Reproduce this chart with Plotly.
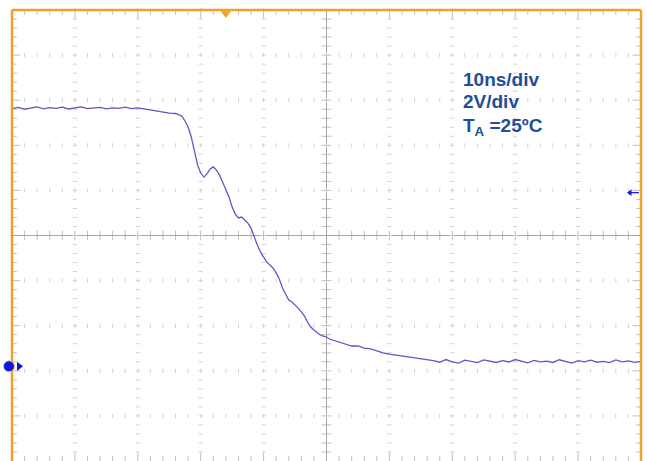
import plotly.graph_objects as go

# ---------------- data ----------------
time_ns = [
    -50, -49, -48, -47, -46, -45, -44, -43, -42, -41, -40, -39, -38, -37, -36, -35,
    -34, -33, -32, -31, -30, -29,
    -28, -27, -26, -25, -24, -23, -22.5, -22, -21.5, -21, -20.5, -20, -19.5, -19,
    -18.5, -18, -17.5, -17, -16.5, -16, -15.5, -15, -14.5, -14, -13.5, -13, -12.5,
    -12, -11.5, -11, -10.5, -10, -9.5, -9, -8.5, -8, -7.5, -7, -6.5, -6, -5.5, -5,
    -4.5, -4, -3.5, -3, -2.5, -2, -1.5, -1, -0.5, 0, 0.5, 1, 2, 3, 4, 5, 6, 7, 8, 9,
    10, 11, 12, 13, 14, 15, 16,
    17, 18, 19, 20, 21, 22, 23, 24, 25, 26, 27, 28, 29, 30, 31, 32, 33, 34, 35, 36,
    37, 38, 39, 40, 41, 42, 43, 44, 45, 46, 47, 48, 49, 50,
]
volts = [
    5.63, 5.68, 5.60, 5.66, 5.70, 5.62, 5.67, 5.64, 5.69, 5.61, 5.66, 5.70, 5.63, 5.65,
    5.68, 5.62, 5.66, 5.64, 5.69, 5.63, 5.66, 5.62,
    5.57, 5.52, 5.50, 5.43, 5.41, 5.30, 5.08, 4.81, 4.37, 3.70, 3.13, 2.77, 2.59, 2.73,
    2.95, 3.04, 2.90, 2.68, 2.37, 2.06, 1.71, 1.26, 0.95, 0.78, 0.82, 0.69, 0.55,
    0.33, -0.07, -0.42, -0.73, -0.95, -1.18, -1.31, -1.44, -1.66, -1.93, -2.33, -2.59,
    -2.86, -2.95, -3.08, -3.22, -3.39, -3.57, -3.84, -4.06, -4.19, -4.32, -4.41, -4.46,
    -4.50, -4.59, -4.63, -4.72, -4.81, -4.90, -4.90, -4.99, -5.03, -5.12, -5.21,
    -5.26, -5.30, -5.35, -5.39, -5.43, -5.48, -5.52,
    -5.55, -5.62, -5.50, -5.60, -5.66, -5.53, -5.58, -5.64, -5.52, -5.59, -5.63, -5.55,
    -5.61, -5.50, -5.58, -5.65, -5.54, -5.60, -5.57, -5.63, -5.51, -5.59, -5.66, -5.55,
    -5.60, -5.53, -5.62, -5.58, -5.64, -5.52, -5.60, -5.56, -5.63, -5.58,
]

trigger_time_ns = -16.0      # orange trigger marker on top edge
ch1_ref_level_v = -5.8       # channel reference (ground) marker on the left
trigger_level_v = 1.9        # trigger level arrow on the right

label_lines = ["10ns/div", "2V/div", "T<sub>A</sub> =25ºC"]

# ---------------- screen geometry ----------------
W, H = 647, 461
ML, MR, MT, MB = 12, 6, 10, 0
PW, PH = W - ML - MR, H - MT - MB
X0, X1 = -50.0, 50.0
Y0, Y1 = -10.0, 10.0
XDIV, YDIV = 10.0, 2.0
NDIV = 10
NSUB = 5
DX = (X1 - X0) / PW   # data units per pixel
DY = (Y1 - Y0) / PH

ORANGE = "#f0a12c"
GRID = "#d2d2d2"
AXC = "#a6a6a6"
TRACE = "#5a5ac6"
MARKBLUE = "#0c18e0"
TEXTBLUE = "#1d4f9b"

fig = go.Figure()

# dotted grid
gx, gy = [], []
for i in range(1, NDIV):
    if i == NDIV // 2:
        continue
    xv = X0 + i * XDIV
    for k in range(1, NDIV * NSUB):
        gx.append(xv); gy.append(Y0 + k * YDIV / NSUB)
fig.add_trace(go.Scatter(x=gx, y=gy, mode="markers", hoverinfo="skip",
                         marker=dict(symbol="line-ew", size=3, line=dict(width=1, color=GRID))))
gx, gy = [], []
for j in range(1, NDIV):
    if j == NDIV // 2:
        continue
    yv = Y0 + j * YDIV
    for k in range(1, NDIV * NSUB):
        gx.append(X0 + k * XDIV / NSUB); gy.append(yv)
fig.add_trace(go.Scatter(x=gx, y=gy, mode="markers", hoverinfo="skip",
                         marker=dict(symbol="line-ns", size=3, line=dict(width=1, color=GRID))))

# center cross lines
fig.add_shape(type="line", x0=X0, x1=X1, y0=0, y1=0, line=dict(color=AXC, width=1), layer="below")
fig.add_shape(type="line", x0=0, x1=0, y0=Y0, y1=Y1, line=dict(color=AXC, width=1), layer="below")

# ticks on center lines and border
vx, vy, vs = [], [], []
hx, hy, hs = [], [], []
for k in range(1, NDIV * NSUB):
    xv = X0 + k * XDIV / NSUB
    yv = Y0 + k * YDIV / NSUB
    major = (k % NSUB == 0)
    L = 7 if major else 4
    vx.append(xv); vy.append(0); vs.append(7)
    hx.append(0); hy.append(yv); hs.append(7)
    vx += [xv, xv]; vy += [Y1 - L / 2 * DY, Y0 + L / 2 * DY]; vs += [L, L]
    hx += [X0 + L / 2 * DX, X1 - L / 2 * DX]; hy += [yv, yv]; hs += [L, L]
fig.add_trace(go.Scatter(x=vx, y=vy, mode="markers", hoverinfo="skip", cliponaxis=False,
                         marker=dict(symbol="line-ns", size=vs, line=dict(width=1, color=AXC))))
fig.add_trace(go.Scatter(x=hx, y=hy, mode="markers", hoverinfo="skip", cliponaxis=False,
                         marker=dict(symbol="line-ew", size=hs, line=dict(width=1, color=AXC))))

# signal
fig.add_trace(go.Scatter(x=time_ns, y=volts, mode="lines",
                         line=dict(color=TRACE, width=1.3), hoverinfo="skip"))

# border (left, top, right)
for (xa, ya, xb, yb) in [(0, 0, 0, 1), (0, 1, 1, 1), (1, 1, 1, 0)]:
    fig.add_shape(type="line", xref="paper", yref="paper", x0=xa, y0=ya, x1=xb, y1=yb,
                  line=dict(color=ORANGE, width=2.5))

# trigger marker on top
fig.add_trace(go.Scatter(x=[trigger_time_ns], y=[Y1 - 3.5 * DY], mode="markers",
                         cliponaxis=False, hoverinfo="skip",
                         marker=dict(symbol="triangle-down", size=9, color=ORANGE)))

# channel reference marker on left: circle (paper-anchored shape) + arrow head
ref_paper_y = (ch1_ref_level_v - Y0) / (Y1 - Y0)
fig.add_shape(type="circle", xref="paper", yref="paper",
              xsizemode="pixel", ysizemode="pixel",
              xanchor=0, yanchor=ref_paper_y,
              x0=-8.5, x1=2.5, y0=-5.5, y1=5.5,
              fillcolor=MARKBLUE, line=dict(color="#f3c27a", width=1))
fig.add_trace(go.Scatter(x=[X0 + 7 * DX], y=[ch1_ref_level_v], mode="markers",
                         cliponaxis=False, hoverinfo="skip",
                         marker=dict(symbol="triangle-right", size=8, color=MARKBLUE)))

# trigger level arrow on right
fig.add_trace(go.Scatter(x=[X1 - 12 * DX, X1 - 2 * DX], y=[trigger_level_v, trigger_level_v],
                         mode="lines", cliponaxis=False, hoverinfo="skip",
                         line=dict(color=MARKBLUE, width=1.2)))
fig.add_trace(go.Scatter(x=[X1 - 11 * DX], y=[trigger_level_v], mode="markers",
                         cliponaxis=False, hoverinfo="skip",
                         marker=dict(symbol="triangle-left", size=6, color=MARKBLUE)))

# text labels
label_px_x = 461
label_px_y = [79.5, 101.5, 126.5]
for txt, py in zip(label_lines, label_px_y):
    fig.add_annotation(xref="paper", yref="paper",
                       x=(label_px_x - ML) / PW, y=1 - (py - MT) / PH,
                       xanchor="left", yanchor="middle", showarrow=False,
                       text="<b>" + txt + "</b>",
                       font=dict(family="Liberation Sans, Arial, sans-serif", size=19,
                                 color=TEXTBLUE))

fig.update_layout(
    width=W, height=H,
    margin=dict(l=ML, r=MR, t=MT, b=MB, pad=0),
    paper_bgcolor="white", plot_bgcolor="white",
    showlegend=False,
    xaxis=dict(range=[X0, X1], visible=False, fixedrange=True),
    yaxis=dict(range=[Y0, Y1], visible=False, fixedrange=True),
)

fig.write_html("out.html", config={"displayModeBar": False},
               post_script="document.body.style.margin='0px';document.body.style.overflow='hidden';")
